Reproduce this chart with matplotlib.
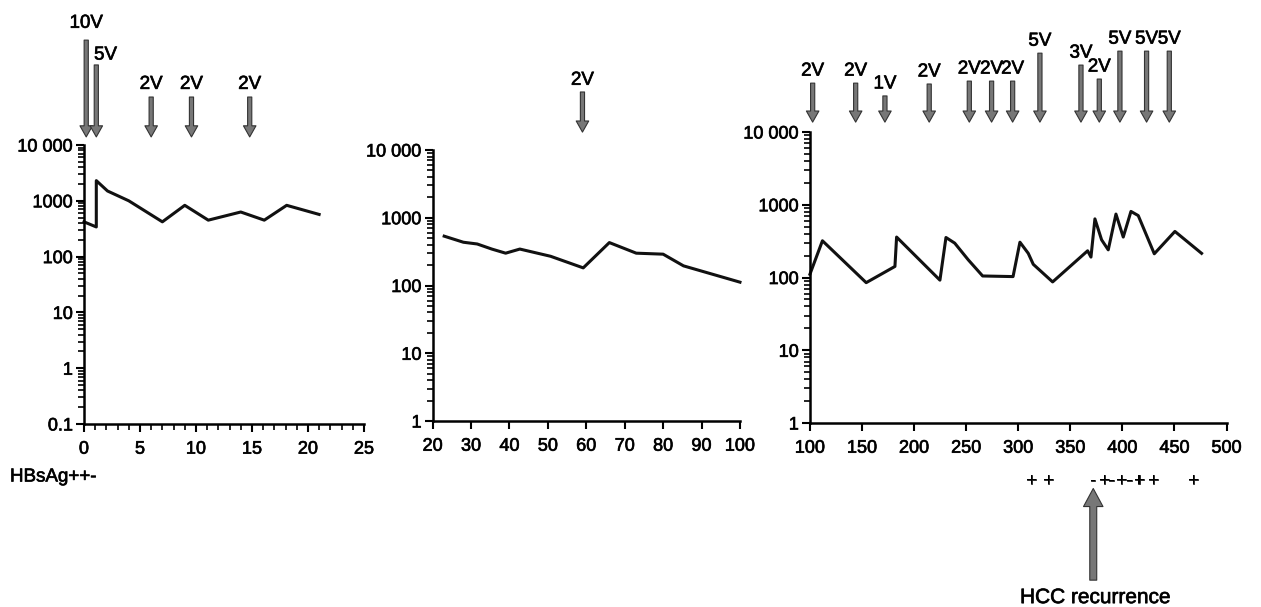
import numpy as np
import matplotlib
matplotlib.use('Agg')
import matplotlib.pyplot as plt
import matplotlib.patheffects as pe
from matplotlib.ticker import FixedLocator, FixedFormatter, NullFormatter

plt.rcParams['font.family'] = ['Liberation Sans', 'DejaVu Sans']
plt.rcParams['font.size'] = 12

# 第一段：0-21 天
d1_x = [0, 1.1, 1.1, 2.1, 4, 7, 9, 11.1, 14, 16.1, 18.1, 21]
d1_y = [420, 340, 2300, 1500, 1000, 420, 830, 450, 630, 450, 830, 570]
dose1_x = [0.2, 1.1, 6, 9.6, 14.8]
dose1_lab = ['10V', '5V', '2V', '2V', '2V']

# 第二段：20-100 天
d2_x = [23, 28, 31.6, 35.4, 39, 42.7, 50.7, 59.2, 66, 73, 80, 85.3, 100]
d2_y = [535, 435, 410, 345, 300, 345, 270, 182, 430, 300, 290, 195, 112]
dose2_x = [59]
dose2_lab = ['2V']

# 第三段：100-500 天
d3_x = [100, 112, 154, 181.6, 183.2, 224.8, 230.6, 239, 252, 265.8, 295, 301.6,
        309.6, 314.4, 333, 366.6, 369.8, 373.6, 380, 386.4, 393.8, 400.8, 408.2,
        415.2, 430.6, 450.4, 476]
d3_y = [111, 320, 85, 142, 360, 92, 355, 297, 175, 105, 103, 306,
        215, 152, 87, 233, 191, 640, 330, 240, 745, 360, 810,
        710, 212, 430, 215]
dose3_x = [102.6, 143.9, 172, 214.5, 253, 274.4, 294.6, 320.8, 360.2, 377.8, 397.6, 423.2, 445]
dose3_lab = ['2V', '2V', '1V', '2V', '2V', '2V', '2V', '5V', '3V', '2V', '5V', '5V', '5V']

# HBsAg 检测结果
hbs_x = [312.8, 328.8, 372, 383, 389.6, 399, 407, 416, 430, 468]
hbs_sign = ['+', '+', '-', '+', '-', '+', '-', '+', '+', '+']
hcc_x = 372

# 箭头顶端高度（轴坐标）
top1 = [1.376, 1.287, 1.172, 1.172, 1.172]
top2 = [1.214]
top3 = [1.168, 1.168, 1.124, 1.165, 1.175, 1.175, 1.175, 1.271, 1.230, 1.182, 1.278, 1.278, 1.278]

ink = [pe.withStroke(linewidth=0.5, foreground='#111111')]
fs = 13.5

fig = plt.figure(figsize=(12.61, 6.07), dpi=100)
ax1 = fig.add_axes([0.0666, 0.3015, 0.222, 0.4596])
ax2 = fig.add_axes([0.3431, 0.3064, 0.2437, 0.4465])
ax3 = fig.add_axes([0.6423, 0.3031, 0.3304, 0.4794])

arrow_kw = dict(width=3, headwidth=9, headlength=8, facecolor='#777777',
                edgecolor='#333333', lw=0.8)


def style_axis(ax, ylim, xlim, xticks):
    ax.set_yscale('log')
    ax.set_ylim(*ylim)
    ax.set_xlim(*xlim)
    for s in ['top', 'right']:
        ax.spines[s].set_visible(False)
    for s in ['left', 'bottom']:
        ax.spines[s].set_linewidth(1.8)
    yt = [v for v in [0.1, 1, 10, 100, 1000, 10000] if ylim[0] <= v <= ylim[1]]
    ylab = {0.1: '0.1', 1: '1', 10: '10', 100: '100', 1000: '1000', 10000: '10 000'}
    ax.yaxis.set_major_locator(FixedLocator(yt))
    ax.yaxis.set_major_formatter(FixedFormatter([ylab[v] for v in yt]))
    minors = [m * d for d in yt[:-1] for m in range(2, 10)]
    ax.yaxis.set_minor_locator(FixedLocator(minors))
    ax.yaxis.set_minor_formatter(NullFormatter())
    ax.set_xticks(xticks)
    ax.set_xticklabels([str(v) for v in xticks])
    ax.tick_params(which='major', length=6, width=1.5, labelsize=13)
    ax.tick_params(axis='y', which='minor', length=4, width=1.2)
    ax.tick_params(axis='x', pad=6)
    ax.tick_params(axis='y', pad=2)
    for lab in ax.get_xticklabels() + ax.get_yticklabels():
        lab.set_path_effects(ink)


def draw_doses(ax, xs, labels, tops, bottom, off=0.012):
    tr = ax.get_xaxis_transform()
    for x, lab, t in zip(xs, labels, tops):
        ax.annotate('', xy=(x, bottom), xytext=(x, t), xycoords=tr, textcoords=tr,
                    arrowprops=arrow_kw, annotation_clip=False)
        ax.text(x, t + off, lab, transform=tr, ha='center', va='bottom', fontsize=fs,
                path_effects=ink)


style_axis(ax1, (0.1, 10000), (0, 25), [0, 5, 10, 15, 20, 25])
ax1.xaxis.set_minor_locator(FixedLocator(np.arange(0, 26, 1)))
ax1.tick_params(axis='x', which='minor', length=4, width=1.2)
ax1.plot(d1_x, d1_y, color='#111111', lw=2.2, clip_on=False)
tr1 = ax1.get_xaxis_transform()
for x, t in zip(dose1_x, top1):
    ax1.annotate('', xy=(x, 1.029), xytext=(x, t), xycoords=tr1, textcoords=tr1,
                 arrowprops=arrow_kw, annotation_clip=False)
ax1.text(dose1_x[0], top1[0] + 0.03, dose1_lab[0], transform=tr1, ha='center', va='bottom',
         fontsize=fs, path_effects=ink)
ax1.text(dose1_x[1] - 0.2, top1[1] + 0.005, dose1_lab[1], transform=tr1, ha='left', va='bottom',
         fontsize=fs, path_effects=ink)
for x, lab, t in zip(dose1_x[2:], dose1_lab[2:], top1[2:]):
    ax1.text(x, t + 0.015, lab, transform=tr1, ha='center', va='bottom', fontsize=fs,
             path_effects=ink)

style_axis(ax2, (1, 10000), (20, 100), [20, 30, 40, 50, 60, 70, 80, 90, 100])
ax2.plot(d2_x, d2_y, color='#111111', lw=2.2, clip_on=False)
draw_doses(ax2, dose2_x, dose2_lab, top2, 1.066)

style_axis(ax3, (1, 10000), (100, 500), [100, 150, 200, 250, 300, 350, 400, 450, 500])
ax3.plot(d3_x, d3_y, color='#111111', lw=2.2, clip_on=False)
draw_doses(ax3, dose3_x, dose3_lab, top3, 1.034)

# HBsAg 行与复发标记
fig.text(10 / 1261, 1 - 477 / 607, 'HBsAg++-', ha='left', va='center', fontsize=fs,
         path_effects=ink)
tr3 = ax3.get_xaxis_transform()
for x, s in zip(hbs_x, hbs_sign):
    ax3.text(x, -0.199, s, transform=tr3, ha='center', va='center', fontsize=fs,
             path_effects=ink)
ax3.annotate('', xy=(hcc_x, -0.225), xytext=(hcc_x, -0.54), xycoords=tr3, textcoords=tr3,
             arrowprops=dict(width=5, headwidth=14, headlength=13, facecolor='#777777',
                             edgecolor='#333333', lw=0.8), annotation_clip=False)
ax3.text(hcc_x + 2, -0.60, 'HCC recurrence', transform=tr3, ha='center', va='center',
         fontsize=15, path_effects=ink)

plt.savefig('out.png', dpi=100)
